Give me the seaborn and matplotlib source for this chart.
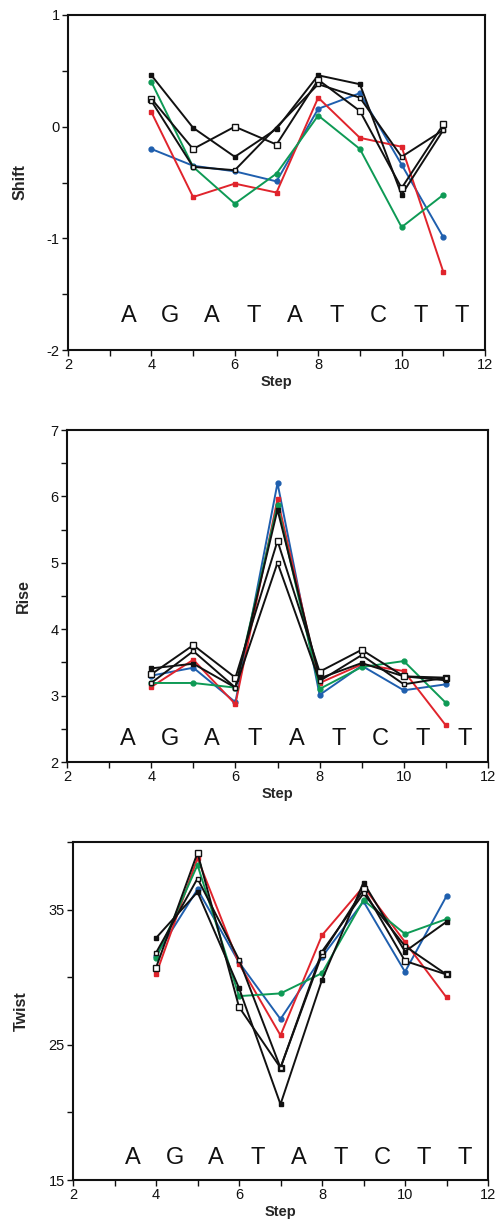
import numpy as np
import pandas as pd
import matplotlib
matplotlib.use("Agg")
import matplotlib.pyplot as plt
from matplotlib.ticker import MultipleLocator, FixedLocator
import seaborn as sns

steps = [4, 5, 6, 7, 8, 9, 10, 11]
sequence = ["A", "G", "A", "T", "A", "T", "C", "T", "T"]
series_names = ["blue", "red", "green", "black_filled", "black_open", "black_third"]

# Shift
shift_blue = [-0.20, -0.35, -0.40, -0.49, 0.16, 0.30, -0.34, -0.99]
shift_red = [0.13, -0.63, -0.51, -0.59, 0.26, -0.10, -0.18, -1.30]
shift_green = [0.40, -0.36, -0.69, -0.42, 0.10, -0.20, -0.90, -0.61]
shift_black_filled = [0.46, -0.01, -0.27, -0.02, 0.46, 0.38, -0.61, -0.03]
shift_black_open = [0.25, -0.20, 0.00, -0.16, 0.42, 0.14, -0.55, 0.02]
shift_black_third = [0.23, -0.36, -0.39, np.nan, 0.38, 0.26, -0.27, -0.03]

# Rise
rise_blue = [3.30, 3.42, 2.90, 6.20, 3.01, 3.45, 3.08, 3.17]
rise_red = [3.13, 3.54, 2.87, 5.96, 3.19, 3.47, 3.37, 2.55]
rise_green = [3.19, 3.19, 3.12, 5.87, 3.10, 3.43, 3.52, 2.89]
rise_black_filled = [3.41, 3.48, 3.12, 5.80, 3.26, 3.49, 3.29, 3.23]
rise_black_open = [3.32, 3.76, 3.27, 5.33, 3.36, 3.69, 3.29, 3.27]
rise_black_third = [3.19, 3.67, 3.12, 5.00, 3.22, 3.61, 3.17, 3.27]

# Twist
twist_blue = [31.6, 36.5, 31.1, 26.9, 31.5, 35.6, 30.4, 36.0]
twist_red = [30.2, 38.8, 31.0, 25.7, 33.1, 36.7, 32.6, 28.5]
twist_green = [31.4, 38.3, 28.6, 28.8, 30.3, 35.7, 33.2, 34.3]
twist_black_filled = [32.9, 36.3, 29.2, 20.6, 29.8, 37.0, 31.9, 34.1]
twist_black_open = [30.7, 39.2, 27.8, 23.3, 31.7, 36.5, 31.2, 30.2]
twist_black_third = [31.8, 37.3, 31.3, 23.3, 31.9, 36.2, 32.3, 30.2]

shift_yticks = [-2, -1, 0, 1]
rise_yticks = [2, 3, 4, 5, 6, 7]
twist_yticks = [15, 25, 35]

panels = [
    ("Shift", [shift_blue, shift_red, shift_green, shift_black_filled, shift_black_open, shift_black_third],
     (-2, 1), shift_yticks, 0.5, -1.70),
    ("Rise", [rise_blue, rise_red, rise_green, rise_black_filled, rise_black_open, rise_black_third],
     (2, 7), rise_yticks, 0.5, 2.34),
    ("Twist", [twist_blue, twist_red, twist_green, twist_black_filled, twist_black_open, twist_black_third],
     (15, 40), twist_yticks, 5.0, 16.6),
]

styles = {
    "blue": dict(color="#1f5fae", marker="o", mfc="#1f5fae", ms=3.5),
    "red": dict(color="#e0242c", marker="s", mfc="#e0242c", ms=3.5),
    "green": dict(color="#0e9a55", marker="o", mfc="#0e9a55", ms=3.5),
    "black_filled": dict(color="#111111", marker="s", mfc="#111111", ms=3.5),
    "black_open": dict(color="#111111", marker="s", mfc="white", ms=4),
    "black_third": dict(color="#111111", marker="s", mfc="white", ms=3.2),
}

sns.set_style("ticks")
plt.rcParams["font.family"] = ["Liberation Sans", "DejaVu Sans"]
plt.rcParams["axes.unicode_minus"] = False

fig = plt.figure(figsize=(5.01, 12.20), dpi=100)
H = 1220.0
W = 501.0
rects = [(68, 15, 485, 350), (67, 430, 488, 762), (73, 842, 488, 1180)]

for (label, data, ylim, yticks, minor, letter_y), (l, t, r, b) in zip(panels, rects):
    ax = fig.add_axes([l / W, 1 - b / H, (r - l) / W, (b - t) / H])
    rows = []
    for name, vals in zip(series_names, data):
        for s, v in zip(steps, vals):
            rows.append({"Step": s, "value": v, "series": name})
    df = pd.DataFrame(rows)
    for name in series_names:
        st = styles[name]
        sub = df[df["series"] == name].dropna()
        sns.lineplot(data=sub, x="Step", y="value", ax=ax, color=st["color"],
                     marker=st["marker"], markersize=st["ms"],
                     markerfacecolor=st["mfc"], markeredgecolor=st["color"],
                     markeredgewidth=1.0, linewidth=1.4, estimator=None, sort=False,
                     legend=False)
    ax.set_xlim(2, 12)
    ax.set_ylim(*ylim)
    ax.xaxis.set_major_locator(MultipleLocator(2))
    ax.xaxis.set_minor_locator(MultipleLocator(1))
    ax.yaxis.set_major_locator(FixedLocator(yticks))
    ax.yaxis.set_minor_locator(MultipleLocator(minor))
    ax.tick_params(which="both", direction="out", length=4, width=1.0, colors="#111111",
                   labelsize=10.5, top=False, right=False, pad=2)
    for sp in ax.spines.values():
        sp.set_visible(True)
        sp.set_linewidth(1.5)
        sp.set_color("#111111")
    ax.set_xlabel("Step", fontsize=10.5, fontweight="bold", labelpad=2)
    ax.set_ylabel(label, fontsize=11.5, fontweight="bold", labelpad=14)
    for i, letter in enumerate(sequence):
        ax.text(3.45 + i, letter_y, letter, ha="center", va="center", fontsize=17,
                color="#111111")

fig.savefig("out.png", dpi=100)
